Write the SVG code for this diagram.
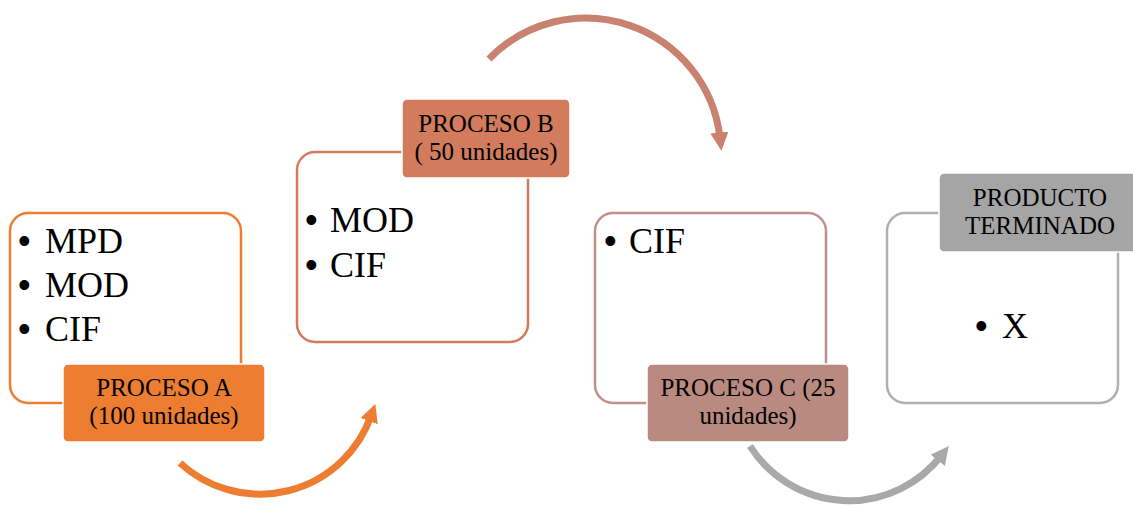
<svg xmlns="http://www.w3.org/2000/svg" width="1133" height="506" viewBox="0 0 1133 506">
<style>
.box{fill:#fff;stroke-width:2.5}
.lbl{stroke:#fff;stroke-width:1.5}
.lt{font-family:"Liberation Serif","Times New Roman",serif;font-size:25px;fill:#000;text-anchor:middle}
.bt{font-family:"Liberation Serif","Times New Roman",serif;font-size:36px;fill:#000}
.bd{font-family:"Liberation Sans",Arial,sans-serif;font-size:36px;fill:#000}
.arr{fill:none;stroke-width:7}
</style>
<defs>
<marker id="mA" viewBox="0 0 10 10" refX="3" refY="5" markerWidth="2.6" markerHeight="3" orient="auto" markerUnits="strokeWidth"><path d="M0,0 L10,5 L0,10 Z" fill="#ED7D31"/></marker>
<marker id="mB" viewBox="0 0 10 10" refX="3" refY="5" markerWidth="2.6" markerHeight="3" orient="auto" markerUnits="strokeWidth"><path d="M0,0 L10,5 L0,10 Z" fill="#C8826F"/></marker>
<marker id="mC" viewBox="0 0 10 10" refX="3" refY="5" markerWidth="2.6" markerHeight="3" orient="auto" markerUnits="strokeWidth"><path d="M0,0 L10,5 L0,10 Z" fill="#A9A9A9"/></marker>
</defs>
<g id="connectors">
<path class="arr" d="M180,463 A118,118 0 0 0 371,416" stroke="#ED7D31" marker-end="url(#mA)"/>
<path class="arr" d="M489,59 A135,135 0 0 1 720,138" stroke="#C8826F" marker-end="url(#mB)"/>
<path class="arr" d="M750,446 A117,117 0 0 0 941,456" stroke="#A9A9A9" marker-end="url(#mC)"/>
</g>
<g id="procesoA">
<rect class="box" x="10" y="213" width="231" height="190" rx="18" stroke="#ED7D31"/>
<text class="bd" x="18" y="253">•</text><text class="bt" x="45" y="253">MPD</text>
<text class="bd" x="18" y="297">•</text><text class="bt" x="45" y="297">MOD</text>
<text class="bd" x="18" y="341">•</text><text class="bt" x="45" y="341">CIF</text>
<rect class="lbl" x="63" y="364" width="202" height="78" rx="5" fill="#ED7D31"/>
<text class="lt" x="164" y="396">PROCESO A</text>
<text class="lt" x="164" y="424">(100 unidades)</text>
</g>
<g id="procesoB">
<rect class="box" x="297" y="152" width="231" height="190" rx="18" stroke="#D27B5D"/>
<text class="bd" x="305" y="232">•</text><text class="bt" x="330" y="232">MOD</text>
<text class="bd" x="305" y="277">•</text><text class="bt" x="330" y="277">CIF</text>
<rect class="lbl" x="402" y="99" width="168" height="79" rx="5" fill="#D27B5D"/>
<text class="lt" x="486" y="132">PROCESO B</text>
<text class="lt" x="486" y="160">( 50 unidades)</text>
</g>
<g id="procesoC">
<rect class="box" x="595" y="213" width="231" height="190" rx="18" stroke="#C19089"/>
<text class="bd" x="604" y="253">•</text><text class="bt" x="629" y="253">CIF</text>
<rect class="lbl" x="647" y="364" width="202" height="78" rx="5" fill="#BA8A81"/>
<text class="lt" x="748" y="396">PROCESO C (25</text>
<text class="lt" x="748" y="424">unidades)</text>
</g>
<g id="productoTerminado">
<rect class="box" x="887" y="213" width="231" height="190" rx="18" stroke="#B0B0B0"/>
<text class="bd" x="975" y="338">•</text><text class="bt" x="1002" y="338">X</text>
<rect class="lbl" x="939" y="173" width="202" height="79" rx="5" fill="#A5A5A5"/>
<text class="lt" x="1040" y="206">PRODUCTO</text>
<text class="lt" x="1040" y="234">TERMINADO</text>
</g>
</svg>
